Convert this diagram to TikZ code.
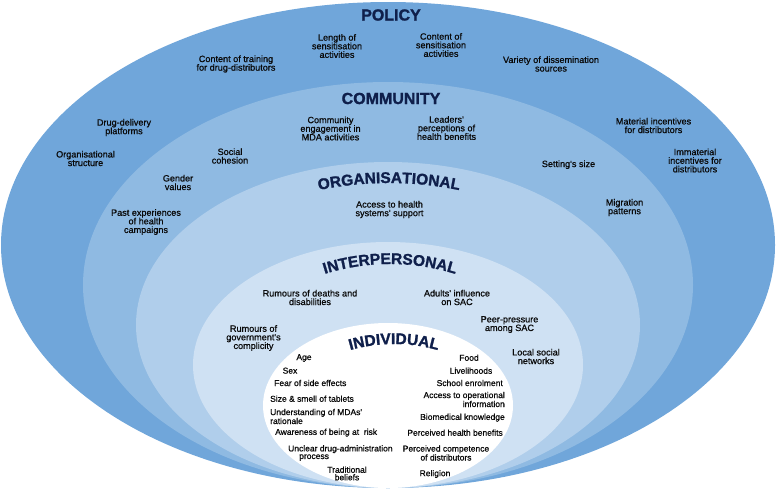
\documentclass[tikz,border=0pt]{standalone}
\usepackage{fontspec}
\setmainfont{Liberation Sans}
\newfontfamily\lblfamily{Liberation Sans}[FakeBold=0.8]
\newfontfamily\ttlfamily{Liberation Sans}[BoldFeatures={FakeBold=1.4}]
\usetikzlibrary{decorations.text}
\definecolor{lvlpol}{HTML}{70A6DA}
\definecolor{lvlcom}{HTML}{8FBAE2}
\definecolor{lvlorg}{HTML}{B0CEEB}
\definecolor{lvlint}{HTML}{CFE1F3}
\definecolor{ttlnavy}{HTML}{0F1F4B}
\definecolor{lbltext}{HTML}{0A0A0A}
\newcommand\ttlfont{\fontsize{15.5}{15.5}\selectfont\ttlfamily\bfseries}
\tikzset{
  lbl/.style   ={align=center, inner sep=0pt, text=lbltext,
                 font=\lblfamily\fontsize{9.1}{8.6}\selectfont},
  ind/.style   ={lbl, font=\lblfamily\fontsize{8.5}{7.6}\selectfont},
  indl/.style  ={ind, align=left, anchor=west},
  indr/.style  ={ind, align=right, anchor=east},
  ttl/.style   ={inner sep=0pt, text=ttlnavy, font=\ttlfamily\fontsize{16}{16}\selectfont\bfseries},
  arcttl/.style={decorate, decoration={text along path, text align=center,
                 text color=ttlnavy, text={|\ttlfont|#1}}}
}

\begin{document}
\begin{tikzpicture}[x=1pt, y=1pt]
  \useasboundingbox (0,0) rectangle (776,-490);
  % nested levels, outermost first
  \fill[lvlpol] (388,-245) ellipse[x radius=387pt, y radius=243pt];
  \fill[lvlcom] (388,-285) ellipse[x radius=305pt, y radius=203pt];
  \fill[lvlorg] (388,-325) ellipse[x radius=252pt, y radius=163pt];
  \fill[lvlint] (388,-365) ellipse[x radius=195pt, y radius=123pt];
  \fill[white]  (388,-405.5) ellipse[x radius=125pt, y radius=82.5pt];

  % level titles
  \node[ttl] (policy) at (391,-15) {POLICY};
  \node[ttl] (community) at (391,-98.5) {COMMUNITY};
  \coordinate (orgc) at (389,-533);
  \coordinate (intc) at (390,-484);
  \coordinate (indc) at (394,-504);
  \path[arcttl=ORGANISATIONAL] ([shift={(120:350pt)}]orgc) arc[start angle=120, end angle=60, radius=350pt];
  \path[arcttl=INTERPERSONAL] ([shift={(130:220pt)}]intc) arc[start angle=130, end angle=50, radius=220pt];
  \path[arcttl=INDIVIDUAL] ([shift={(130:160pt)}]indc) arc[start angle=130, end angle=50, radius=160pt];

  % policy
  \node[lbl] (cotrain) at (236,-64) {Content of training\\for drug-distributors};
  \node[lbl] (lensens) at (337,-46) {Length of\\sensitisation\\activities};
  \node[lbl] (consens) at (441,-45) {Content of\\sensitisation\\activities};
  \node[lbl] (variety) at (551,-64) {Variety of dissemination\\sources};
  \node[lbl] (platf) at (124,-127.5) {Drug-delivery\\platforms};
  \node[lbl] (orgstr) at (85.5,-158.5) {Organisational\\structure};
  \node[lbl] (matinc) at (653.5,-125.5) {Material incentives\\for distributors};
  \node[lbl] (immatinc) at (695,-160.5) {Immaterial\\incentives for\\distributors};

  % community
  \node[lbl] (engage) at (330.5,-128.5) {Community\\engagement in\\MDA activities};
  \node[lbl] (leaders) at (446.5,-128) {Leaders'\\perceptions of\\health benefits};
  \node[lbl] (cohesion) at (230,-156) {Social\\cohesion};
  \node[lbl] (gender) at (178,-182.5) {Gender\\values};
  \node[lbl] (pastexp) at (146,-222) {Past experiences\\of health\\campaigns};
  \node[lbl] (setsize) at (568.5,-164.7) {Setting's size};
  \node[lbl] (migr) at (624.5,-207.5) {Migration\\patterns};

  % organisational
  \node[lbl] (hsys) at (389.5,-209.5) {Access to health\\systems' support};

  % interpersonal
  \node[lbl] (rumdeath) at (310,-297.5) {Rumours of deaths and\\disabilities};
  \node[lbl] (adults) at (457,-297.5) {Adults' influence\\on SAC};
  \node[lbl] (peer) at (509.5,-324.5) {Peer-pressure\\among SAC};
  \node[lbl] (rumgov) at (253.5,-338) {Rumours of\\government's\\complicity};
  \node[lbl] (localnet) at (536,-356.5) {Local social\\networks};

  % individual
  \node[ind] (age) at (304,-358) {Age};
  \node[ind] (sex) at (290,-370.7) {Sex};
  \node[indl] (fear) at (274,-383) {Fear of side effects};
  \node[indl] (size) at (270,-398.7) {Size \& smell of tablets};
  \node[indl] (underst) at (270,-416.5) {Understanding of MDAs'\\rationale};
  \node[indl] (aware) at (275,-432.7) {Awareness of being at\ \ risk};
  \node[indl] (unclear) at (288,-453) {Unclear drug-administration\\\hspace*{11pt}process};
  \node[ind] (tradit) at (347,-473.5) {Traditional\\beliefs};
  \node[ind] (food) at (469,-357.7) {Food};
  \node[ind] (livel) at (471,-370.7) {Livelihoods};
  \node[indr] (school) at (503,-383) {School enrolment};
  \node[indr] (opinfo) at (505,-399.5) {Access to operational\\information};
  \node[indr] (biomed) at (505,-417.7) {Biomedical knowledge};
  \node[indr] (healthben) at (503,-432.7) {Perceived health benefits};
  \node[ind] (compet) at (446,-453) {Perceived competence\\of distributors};
  \node[ind] (relig) at (435,-474) {Religion};
\end{tikzpicture}
\end{document}
